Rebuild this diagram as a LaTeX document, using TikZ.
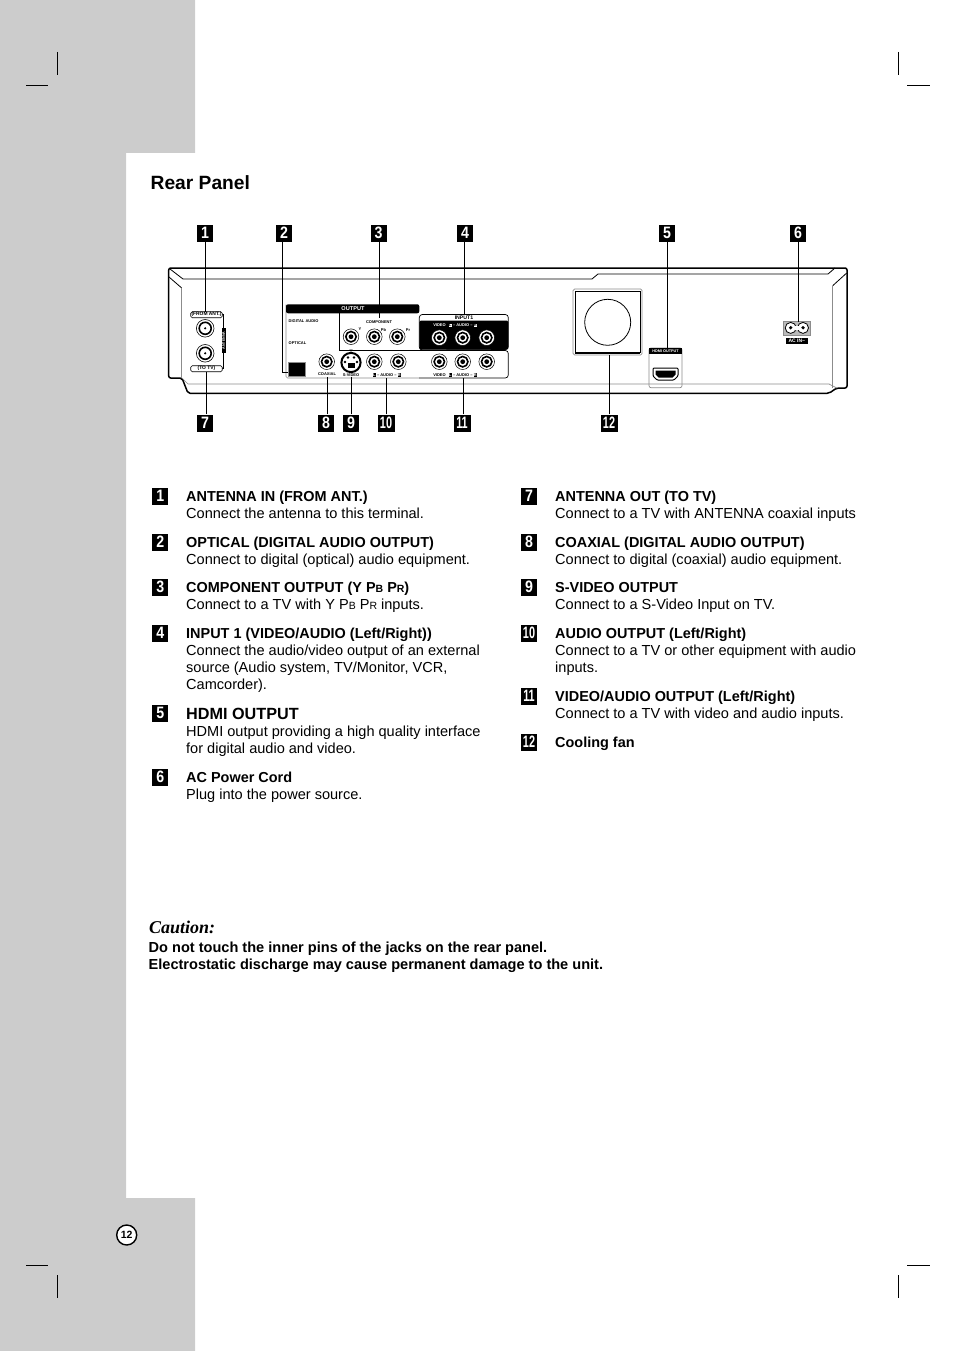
\documentclass[tikz,border=0pt]{standalone}
\usepackage{fontspec}
\setmainfont{Liberation Sans}
\newfontfamily\cautionfont{Liberation Serif}
\newfontfamily\badgefont[FakeStretch=0.86]{Liberation Sans}
\newfontfamily\badgewide[FakeStretch=0.66]{Liberation Sans}
\definecolor{pagegrey}{HTML}{CCCCCC}
\definecolor{panelgrey}{HTML}{8C8C8C}
\newcommand{\ent}[4]{\node[bodytext] (#1) at (#2,#3-11) {\rule{0pt}{11pt}#4};}
\newcommand{\bld}[1]{{\bfseries\fontsize{14.45pt}{17pt}\selectfont #1}}
\newcommand{\smc}[1]{{\fontsize{10.5pt}{12pt}\selectfont #1}}
\setlength{\fboxsep}{0.3pt}
\newcommand{\lr}[1]{\colorbox{black}{\textcolor{white}{#1}}}
\newcommand{\lrw}[1]{\colorbox{white}{\textcolor{black}{#1}}}
\tikzset{
  badge/.style={fill=black,text=white,inner sep=0pt,minimum width=16pt,minimum height=17pt,font=\badgefont\bfseries\fontsize{16.5pt}{17pt}\selectfont},
  badgetwo/.style={badge,minimum width=17pt,font=\badgewide\bfseries\fontsize{16.5pt}{17pt}\selectfont},
  bodytext/.style={anchor=north west,inner sep=0pt,align=left,font=\fontsize{14.55pt}{17pt}\selectfont},
  tiny/.style={inner sep=0pt,font=\bfseries\fontsize{4pt}{5pt}\selectfont},
  tinyw/.style={tiny,text=white},
  lead/.style={line width=0.9pt},
  crop/.style={line width=0.6pt},
  casing/.style={line width=1.5pt,line join=round},
  casingthin/.style={line width=0.8pt,line join=round},
  greyline/.style={line width=0.7pt,draw=panelgrey},
  jack/.pic={
    \draw[line width=0.5pt,fill=white] (0,0) circle (7.8);
    \draw[line width=1.6pt,fill=white] (0,0) circle (5.2);
    \fill (0,0) circle (2.4);
  },
  antjack/.pic={
    \draw[line width=0.6pt,fill=white] (0,0) circle (8.8);
    \draw[line width=1.6pt,fill=white] (0,0) circle (6);
    \fill (0,0) circle (1.2);
  }
}
\begin{document}
\begin{tikzpicture}[x=1pt,y=-1pt]
\useasboundingbox (0,0) rectangle (954,1351);
% page background
\fill[pagegrey] (0,0) -- (195,0) -- (195,153) -- (126,153) -- (126,1198) -- (195,1198) -- (195,1351) -- (0,1351) -- cycle;
% crop marks
\draw[crop] (26,85) -- (48,85) (57,52) -- (57,75) (898,52) -- (898,75) (907,85) -- (930,85);
\draw[crop] (26,1265) -- (48,1265) (57,1275) -- (57,1298) (898,1275) -- (898,1298) (907,1265) -- (930,1265);
% title
\node[anchor=base west,inner sep=0pt,font=\bfseries\fontsize{19.2pt}{20pt}\selectfont] (title) at (150.5,189.5) {Rear Panel};
% casing
\draw[casing,rounded corners=2pt] (168.7,378) -- (168.7,268) -- (847,268) -- (847,388) -- (836.7,388) -- (829,393.3) -- (188,393.3) -- (182,378) -- cycle;
\draw[casingthin] (170,269) -- (183,279) -- (592,279) -- (598,274) -- (828,274) -- (835,268);
\draw[casingthin] (169,277) -- (181.7,288);
\draw[greyline] (181.7,288) -- (181.7,378);
\draw[casingthin] (846.7,273) -- (832.7,285.7);
\draw[greyline] (832.7,285.7) -- (832.7,388);
\draw[greyline] (182,378) -- (188,384) -- (829,384) -- (836.7,388);
% antenna section
\draw[line width=0.6pt] (222,314.5) -- (223.5,314.5) -- (223.5,368.5) -- (222,368.5);
\node[draw,rounded corners=1.5pt,line width=0.6pt,fill=white,minimum width=31.5pt,minimum height=6pt,inner sep=0pt,font=\bfseries\fontsize{4.9pt}{5pt}\selectfont] (antin) at (206.5,314.7) {(FROM ANT.)};
\node[draw,rounded corners=1.5pt,line width=0.6pt,fill=white,minimum width=31.5pt,minimum height=6pt,inner sep=0pt,font=\bfseries\fontsize{4.9pt}{5pt}\selectfont] (antout) at (206.5,368.7) {(TO TV)};
\node[fill=black,text=white,rotate=90,minimum width=24.5pt,minimum height=4.2pt,inner sep=0pt,font=\bfseries\fontsize{3.6pt}{4pt}\selectfont] (antname) at (223.7,340.5) {ANTENNA};
\pic at (205.2,328.3) {antjack};
\pic at (205.2,353.3) {antjack};
% output panel
\draw[greyline,rounded corners=1.5pt] (286,304.5) -- (286,378) -- (419,378);
\fill[rounded corners=2pt] (286,313.3) -- (286,304.3) -- (419.3,304.3) -- (419.3,313.3) -- cycle;
\node[tinyw,font=\bfseries\fontsize{5.6pt}{6pt}\selectfont] (outlab) at (353,309) {OUTPUT};
\draw[line width=0.6pt] (339.3,313) -- (339.3,350) -- (419,350);
\node[tiny,anchor=west] (digital) at (288.5,321.5) {DIGITAL AUDIO};
\node[tiny,anchor=west] (optlab) at (288.5,343) {OPTICAL};
\node[tiny] (complab) at (379,322) {COMPONENT};
\node[tiny] (ylab) at (360,329.5) {Y};
\node[tiny] (pblab) at (383.5,330.5) {Pb};
\node[tiny] (prlab) at (408,330.5) {Pr};
\node[tiny] (coaxlab) at (327,374.3) {COAXIAL};
\node[tiny] (svidlab) at (351,374.8) {S-VIDEO};
\node[tiny] (audlab) at (387,375) {\lr{L} -- AUDIO -- \lr{R}};
\node[draw=panelgrey,fill=black,line width=0.7pt,minimum width=16.7pt,minimum height=14.4pt,inner sep=0pt] (optical) at (297,369.5) {};
\pic at (351,336.7) {jack};
\pic at (374.3,336.7) {jack};
\pic at (397.3,336.7) {jack};
\pic at (326.7,361.7) {jack};
\pic at (374.3,361.7) {jack};
\pic at (398.3,361.7) {jack};
% s-video
\draw[line width=2pt,fill=white] (351,362.5) circle (9.6);
\fill (351,351.7) -- ++(-1.6,-2) -- ++(3.2,0) -- cycle;
\foreach \a/\b in {-3/-5,3/-5,-6/-0.5,6/-0.5}{\fill (351+\a,362.5+\b) circle (1.3);}
\fill (347.5,362.5) rectangle (354.5,368);
% input 1
\draw[line width=0.7pt,rounded corners=3pt] (419.3,350) -- (419.3,314.5) -- (508.3,314.5) -- (508.3,349.5) -- cycle;
\fill[rounded corners=1.5pt] (419.3,349.7) -- (419.3,320.5) -- (508.3,320.5) -- (508.3,349.7) -- cycle;
\node[tiny,font=\bfseries\fontsize{5.2pt}{6pt}\selectfont] (inlab) at (464,317.3) {INPUT1};
\node[tinyw] (vidw) at (439.5,325.2) {VIDEO};
\node[tinyw] (audw) at (463,325.2) {\lrw{L} -- AUDIO -- \lrw{R}};
\draw[line width=0.7pt,rounded corners=3pt] (419,350.5) -- (508.3,350.5) -- (508.3,378) -- (419,378);
\node[tiny] (vidb) at (439.5,375) {VIDEO};
\node[tiny] (audb) at (463,375) {\lr{L} -- AUDIO -- \lr{R}};
\foreach \x in {439.3,462.7,486.7}{
  \pic at (\x,337.7) {jack};
  \pic at (\x,361.7) {jack};
}
% fan
\draw[panelgrey,line width=0.7pt,rounded corners=1.5pt] (573,289) rectangle (642,355);
\draw[line width=0.8pt] (575,291) -- (640,291) -- (640,353) (575,353) -- (575,291);
\draw[line width=1.4pt] (575,353) -- (640,353);
\node[circle,draw,line width=0.8pt,minimum size=46pt,inner sep=0pt] (fan) at (607.7,322.3) {};
% hdmi
\draw[panelgrey,line width=0.7pt,rounded corners=2pt] (649,348) rectangle (682,387.7);
\node[fill=black,text=white,minimum width=33pt,minimum height=6.5pt,inner sep=0pt,font=\bfseries\fontsize{3.8pt}{4pt}\selectfont] (hdmilab) at (665.5,351) {HDMI OUTPUT};
\draw[line width=1pt,fill=white,rounded corners=1pt] (653,368) -- (678,368) -- (678,376) -- (674,380) -- (657,380) -- (653,376) -- cycle;
\fill (655.5,370.5) -- (675.5,370.5) -- (675.5,374.5) -- (672.5,377.5) -- (658.5,377.5) -- (655.5,374.5) -- cycle;
% AC
\node[fill=panelgrey!60,draw=panelgrey,line width=0.5pt,minimum width=27pt,minimum height=13.3pt,inner sep=0pt] (ac) at (796.5,328.3) {};
\draw[line width=0.8pt,fill=white] (790.7,327.9) circle (5.5);
\draw[line width=0.8pt,fill=white] (803,327.9) circle (5.5);
\fill[white] (795,325.5) rectangle (798.7,330.3);
\fill (790.7,327.7) circle (1.8) (803,327.7) circle (1.8);
\node[fill=black,text=white,minimum width=22.3pt,minimum height=6pt,inner sep=0pt,font=\bfseries\fontsize{5pt}{6pt}\selectfont] (aclab) at (796.8,341) {AC IN\textasciitilde};
% top badges
\node[badge] (t1) at (205,233) {1};
\node[badge] (t2) at (284,233) {2};
\node[badge] (t3) at (378.5,233) {3};
\node[badge] (t4) at (465,233) {4};
\node[badge] (t5) at (667,233) {5};
\node[badge] (t6) at (798,233) {6};
\node[badge] (b7) at (205,423) {7};
\node[badge] (b8) at (326,423) {8};
\node[badge] (b9) at (351,423) {9};
\node[badgetwo] (b10) at (386,423) {10};
\node[badgetwo] (b11) at (462,423) {11};
\node[badgetwo] (b12) at (609,423) {12};
% leaders
\coordinate (e1) at (205.7,312);
\coordinate (e2a) at (282,372);
\coordinate (e3) at (379,318);
\coordinate (e4) at (464,314.5);
\coordinate (e5) at (667,348);
\coordinate (e6) at (798,321.7);
\coordinate (e7) at (206.7,372);
\coordinate (e8) at (327.7,377);
\coordinate (e9) at (351,377);
\coordinate (e10) at (386.7,378);
\coordinate (e11) at (463,378);
\coordinate (e12) at (609,355);
\draw[lead] (t1.south -| e1) -- (e1);
\draw[lead] (t2.south -| e2a) -- (e2a) -- (optical.west |- e2a);
\draw[lead] (t3.south -| e3) -- (e3);
\draw[lead] (t4.south -| e4) -- (e4);
\draw[lead] (t5.south) -- (e5);
\draw[lead] (t6.south) -- (e6);
\draw[lead] (b7.north -| e7) -- (e7);
\draw[lead] (b8.north -| e8) -- (e8);
\draw[lead] (b9.north) -- (e9);
\draw[lead] (b10.north -| e10) -- (e10);
\draw[lead] (b11.north -| e11) -- (e11);
\draw[lead] (b12.north) -- (e12);
% list, left
\foreach \n/\t/\y in {l1/1/496,l2/2/542,l3/3/587,l4/4/633,l5/5/713,l6/6/777}{\node[badge] (\n) at (160.3,\y) {\t};}
\foreach \n/\t/\y in {r7/7/496,r8/8/542,r9/9/587}{\node[badge] (\n) at (529,\y) {\t};}
\foreach \n/\t/\y in {r10/10/633,r11/11/696,r12/12/742}{\node[badgetwo,minimum width=16pt] (\n) at (529,\y) {\t};}
\ent{tl1}{186}{501}{\bld{ANTENNA IN (FROM ANT.)}\\Connect the antenna to this terminal.}
\ent{tl2}{186}{547}{\bld{OPTICAL (DIGITAL AUDIO OUTPUT)}\\Connect to digital (optical) audio equipment.}
\ent{tl3}{186}{592}{\bld{COMPONENT OUTPUT (Y P\smc{B} P\smc{R})}\\Connect to a TV with Y P\smc{B} P\smc{R} inputs.}
\ent{tl4}{186}{638}{\bld{INPUT 1 (VIDEO/AUDIO (Left/Right))}\\Connect the audio/video output of an external\\source (Audio system, TV/Monitor, VCR,\\Camcorder).}
\ent{tl5}{186}{718.5}{\textbf{\fontsize{16.2pt}{17pt}\selectfont HDMI OUTPUT}\\HDMI output providing a high quality interface\\for digital audio and video.}
\ent{tl6}{186}{782}{\bld{AC Power Cord}\\Plug into the power source.}
\ent{tr7}{555}{501}{\bld{ANTENNA OUT (TO TV)}\\Connect to a TV with ANTENNA coaxial inputs}
\ent{tr8}{555}{547}{\bld{COAXIAL (DIGITAL AUDIO OUTPUT)}\\Connect to digital (coaxial) audio equipment.}
\ent{tr9}{555}{592}{\bld{S-VIDEO OUTPUT}\\Connect to a S-Video Input on TV.}
\ent{tr10}{555}{638}{\bld{AUDIO OUTPUT (Left/Right)}\\Connect to a TV or other equipment with audio\\inputs.}
\ent{tr11}{555}{701}{\bld{VIDEO/AUDIO OUTPUT (Left/Right)}\\Connect to a TV with video and audio inputs.}
\ent{tr12}{555}{747}{\bld{Cooling fan}}
% caution
\node[anchor=base west,inner sep=0pt,font=\cautionfont\bfseries\itshape\fontsize{18pt}{20pt}\selectfont] (caution) at (149,933) {Caution:};
\ent{cau}{148.5}{952}{\textbf{Do not touch the inner pins of the jacks on the rear panel.}\\\textbf{Electrostatic discharge may cause permanent damage to the unit.}}
% page number
\node[circle,draw,fill=white,line width=1.4pt,minimum size=20pt,inner sep=0pt,font=\bfseries\fontsize{10.5pt}{11pt}\selectfont] (pg) at (126.7,1235) {12};
\end{tikzpicture}
\end{document}
